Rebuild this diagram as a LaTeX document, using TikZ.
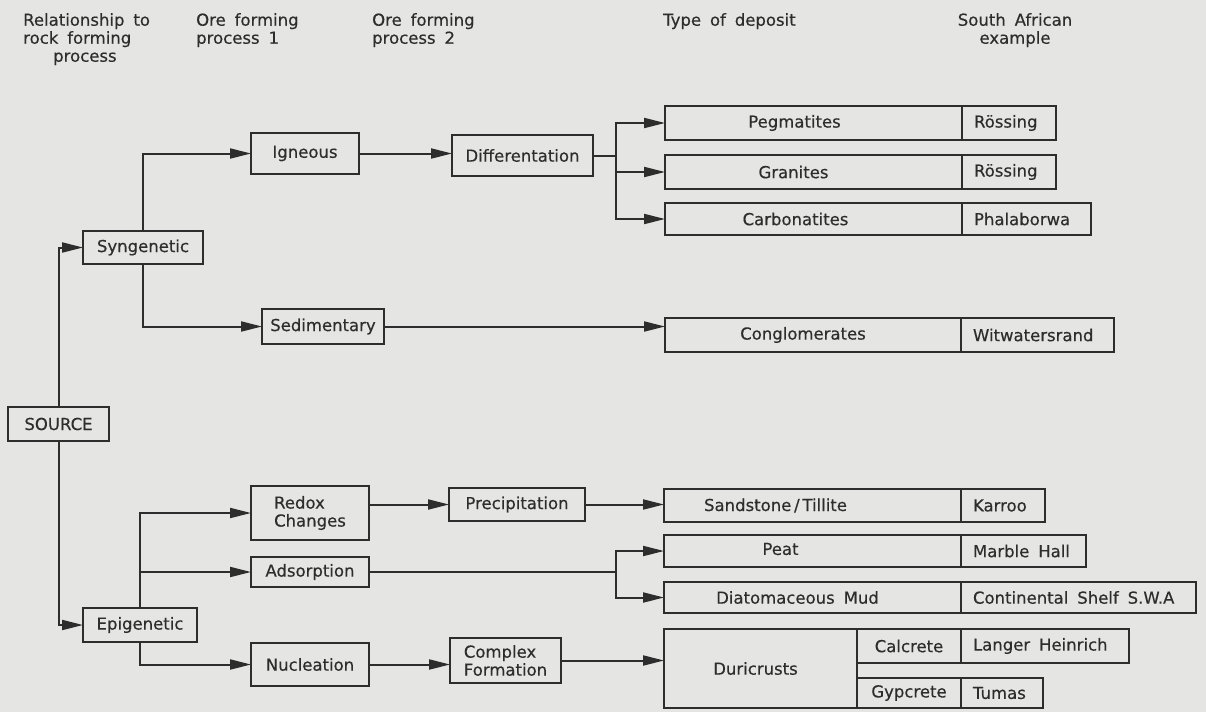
\documentclass[tikz,border=0pt]{standalone}
\usepackage{fontspec}
\setmainfont{DejaVu Sans}[WordSpace=1.7,UprightFeatures={FakeBold=0.4}]
\usetikzlibrary{arrows.meta,calc}
\definecolor{paper}{RGB}{229,229,227}
\definecolor{ink}{RGB}{45,45,45}
\begin{document}
\begin{tikzpicture}[x=1pt,y=-1pt,
  every node/.style={font=\fontsize{16.5}{18}\selectfont, text=ink},
  box/.style={draw=ink, line width=2pt, rectangle, inner sep=0pt, outer sep=0pt, anchor=north west},
  exbox/.style={box, inner xsep=12pt},
  dep/.style={inner sep=0pt},
  conn/.style={draw=ink, line width=2pt},
  arr/.style={conn, -{Triangle[length=21pt,width=10pt]}},
  hdr/.style={inner sep=0pt, anchor=north west, align=left}
]
\path[fill=paper] (0,0) rectangle (1206,712);

% headers
\node[hdr] (h1) at (23,13) {Relationship to\\rock forming\\\hspace*{30pt}process};
\node[hdr] (h2) at (196,13) {Ore forming\\process 1};
\node[hdr] (h3) at (372,13) {Ore forming\\process 2};
\node[hdr] (h4) at (663,13) {Type of deposit};
\node[hdr, align=center, anchor=north] (h5) at (1015,13) {South African\\example};

% process boxes
\node[box, minimum width=101pt, minimum height=34pt] (source) at (8,407) {SOURCE};
\node[box, minimum width=120pt, minimum height=33pt] (syn) at (83,231) {Syngenetic};
\node[box, minimum width=114pt, minimum height=34pt] (epi) at (83,608) {Epigenetic};
\node[box, minimum width=108pt, minimum height=41pt] (ign) at (251,133) {Igneous};
\node[box, minimum width=122pt, minimum height=35pt] (sed) at (262,309) {Sedimentary};
\node[box, minimum width=118pt, minimum height=54pt, align=left] (redox) at (251,486) {Redox\\Changes};
\node[box, minimum width=118pt, minimum height=30pt] (ads) at (251,557) {Adsorption};
\node[box, minimum width=118pt, minimum height=43pt] (nuc) at (251,643) {Nucleation};
\node[box, minimum width=141pt, minimum height=41pt] (diff) at (452,135) {Differentation};
\node[box, minimum width=136pt, minimum height=33pt] (prec) at (449,488) {Precipitation};
\node[box, minimum width=111pt, minimum height=45pt, align=left] (comp) at (450,638) {Complex\\Formation};

% deposit boxes
\node[box, minimum width=297pt, minimum height=34pt, label={[dep,xshift=-19pt]center:Pegmatites}] (peg) at (665,106) {};
\node[exbox, minimum height=34pt] (pegx) at (962,106) {\makebox[70pt][l]{Rössing}};
\node[box, minimum width=297pt, minimum height=34pt, label={[dep,xshift=-20pt]center:Granites}] (gran) at (665,155) {};
\node[exbox, minimum height=34pt] (granx) at (962,155) {\makebox[70pt][l]{Rössing}};
\node[box, minimum width=297pt, minimum height=32pt, label={[dep,xshift=-18pt]center:Carbonatites}] (carb) at (665,203) {};
\node[exbox, minimum height=32pt] (carbx) at (962,203) {\makebox[105pt][l]{Phalaborwa}};
\node[box, minimum width=296pt, minimum height=34pt, label={[dep,xshift=-10pt]center:Conglomerates}] (cong) at (665,318) {};
\node[exbox, minimum height=34pt] (congx) at (961,318) {\makebox[129pt][l]{Witwatersrand}};
\node[box, minimum width=297pt, minimum height=33pt, label={[dep,xshift=-37pt]center:Sandstone\,/\,Tillite}] (sand) at (664,489) {};
\node[exbox, minimum height=33pt] (sandx) at (961,489) {\makebox[60pt][l]{Karroo}};
\node[box, minimum width=297pt, minimum height=32pt, label={[dep,xshift=-32pt,yshift=2pt]center:Peat}] (peat) at (664,535) {};
\node[exbox, minimum height=32pt] (peatx) at (961,535) {\makebox[101pt][l]{Marble Hall}};
\node[box, minimum width=297pt, minimum height=31pt, label={[dep,xshift=-15pt]center:Diatomaceous Mud}] (diat) at (664,582) {};
\node[exbox, minimum height=31pt] (diatx) at (961,582) {\makebox[211pt][l]{Continental Shelf S.W.A}};
\node[box, minimum width=193pt, minimum height=79pt, label={[dep,xshift=-5pt]center:Duricrusts}] (duri) at (664,629) {};
\node[box, minimum width=104pt, minimum height=34pt] (calc) at (857,629) {Calcrete};
\node[exbox, minimum height=34pt] (calcx) at (961,629) {\makebox[144pt][l]{Langer Heinrich}};
\node[box, minimum width=104pt, minimum height=30pt] (gyp) at (857,678) {Gypcrete};
\node[exbox, minimum height=30pt] (gypx) at (961,678) {\makebox[58pt][l]{Tumas}};

% connectors
\draw[arr] (source.north) |- (syn.west);
\draw[arr] (source.south) |- (epi.west);
\draw[arr] (syn.north) |- (ign.west);
\draw[arr] (syn.south) |- (sed.west);
\draw[arr] (ign.east) -- (ign.east -| diff.west);
\coordinate (db) at ($(diff.east)+(23,0)$);
\draw[conn] (diff.east) -- (db);
\draw[arr] (db) |- (peg.west);
\draw[arr] (db) |- (gran.west);
\draw[arr] (db) |- (carb.west);
\draw[arr] (sed.east) -- (sed.east -| cong.west);
\draw[arr] (epi.north) |- (redox.west);
\draw[arr] (epi.north) |- (ads.west);
\draw[arr] (epi.south) |- (nuc.west);
\draw[arr] (prec.west -| redox.east) -- (prec.west);
\draw[arr] (prec.east) -- (prec.east -| sand.west);
\coordinate (ab) at ($(ads.east)+(247,0)$);
\draw[conn] (ads.east) -- (ab);
\draw[arr] (ab) |- (peat.west);
\draw[arr] (ab) |- (diat.west);
\draw[arr] (nuc.east) -- (nuc.east -| comp.west);
\draw[arr] (comp.east) -- (comp.east -| duri.west);
\end{tikzpicture}
\end{document}
